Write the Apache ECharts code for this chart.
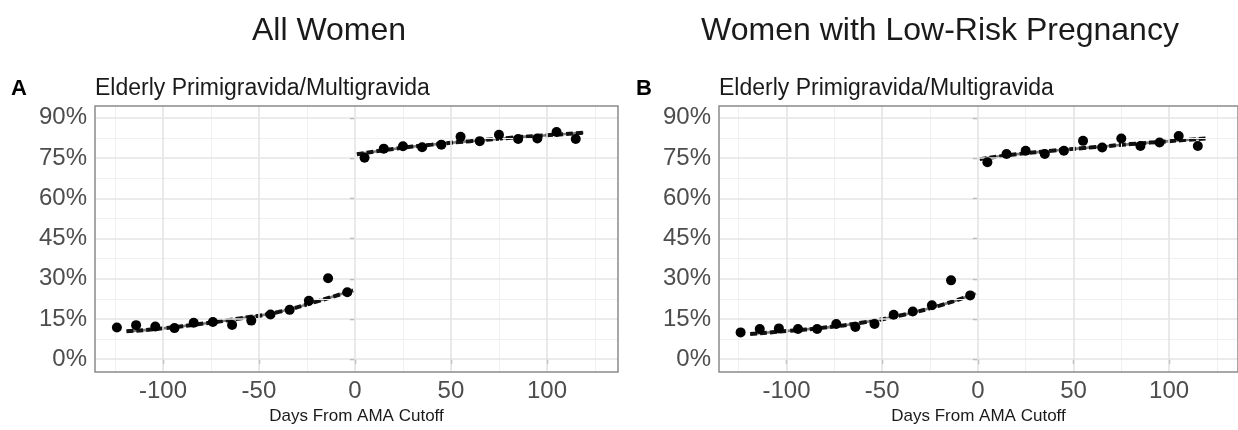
<!DOCTYPE html>
<html>
<head>
<meta charset="utf-8">
<script src="https://cdn.jsdelivr.net/npm/echarts@6/dist/echarts.min.js"></script>
<style>
  html, body { margin: 0; padding: 0; background: #ffffff; }
  #chart { width: 1238px; height: 430px; }
</style>
</head>
<body>
<div id="chart"></div>
<script>
// Days relative to the advanced-maternal-age cutoff (bin centres)
const daysBefore = [-124, -114, -104, -94, -84, -74, -64, -54, -44, -34, -24, -14, -4];
const daysAfter = [5, 15, 25, 35, 45, 55, 65, 75, 85, 95, 105, 115];

// Share coded as elderly primigravida/multigravida (%), all women
const allBefore = [11.8, 12.7, 12.2, 11.6, 13.6, 13.9, 12.8, 14.4, 16.7, 18.4, 21.8, 30.2, 25.0];
const allAfter = [75.1, 78.5, 79.4, 79.0, 80.0, 82.9, 81.3, 83.7, 82.1, 82.3, 84.7, 82.1];

// Same outcome, women with low-risk pregnancy
const lowBefore = [10.0, 11.3, 11.5, 11.3, 11.3, 13.1, 12.0, 13.1, 16.6, 17.8, 20.1, 29.4, 23.8];
const lowAfter = [73.4, 76.5, 77.7, 76.5, 77.7, 81.4, 78.9, 82.3, 79.5, 80.8, 83.2, 79.5];

// Fitted curves on each side of the cutoff
const fitDaysBefore = [-119, -100, -80, -60, -40, -20, -1];
const fitDaysAfter = [1, 20, 40, 60, 80, 100, 119];
const allFitBefore = [10.4, 11.5, 13.2, 15.2, 17.6, 21.5, 25.7];
const allFitAfter = [76.4, 78.4, 80.0, 81.3, 82.5, 83.5, 84.4];
const lowFitBefore = [9.4, 10.5, 11.8, 13.7, 16.4, 20.0, 24.5];
const lowFitAfter = [74.6, 76.4, 77.8, 79.0, 80.2, 81.3, 82.3];

// Axis breaks
const xTicks = [-100, -50, 0, 50, 100];
const xMinor = [-125, -75, -25, 25, 75, 125];
const yTicks = [0, 15, 30, 45, 60, 75, 90];
const yMinor = [7.5, 22.5, 37.5, 52.5, 67.5, 82.5];

const FONT = '"Liberation Sans", Arial, Helvetica, sans-serif';
const pair = (xs, ys) => xs.map((x, i) => [x, ys[i]]);

const grids = [
  { left: 95, top: 106, width: 523, height: 269, xMin: -135.4, xMax: 137 },
  { left: 719, top: 106, width: 519, height: 269, xMin: -135.3, xMax: 136 }
];

function xAxisFor(i) {
  const g = grids[i];
  return {
    type: 'value', gridIndex: i, min: g.xMin, max: g.xMax,
    name: 'Days From AMA Cutoff', nameLocation: 'middle', nameGap: 31,
    nameTextStyle: { fontFamily: FONT, fontSize: 17, color: '#1a1a1a' },
    axisLine: { show: false },
    axisTick: { show: true, customValues: xTicks, length: 5, lineStyle: { color: '#444', width: 1.2 } },
    axisLabel: { customValues: xTicks, fontFamily: FONT, fontSize: 24, color: '#4d4d4d', margin: 7 },
    splitLine: { show: false }
  };
}
function yAxisFor(i) {
  return {
    type: 'value', gridIndex: i, min: -4.8, max: 94.4,
    axisLine: { show: false },
    axisTick: { show: true, customValues: yTicks, length: 5, lineStyle: { color: '#444', width: 1.2 } },
    axisLabel: { customValues: yTicks, fontFamily: FONT, fontSize: 24, color: '#4d4d4d', margin: 8,
                 formatter: v => v + '%' },
    splitLine: { show: false }
  };
}

function gridLines(i) {
  const major = { color: '#e4e4e4', width: 1.6, type: 'solid' };
  const minor = { color: '#f0f0f0', width: 1.0, type: 'solid' };
  const lines = [];
  xMinor.forEach(v => lines.push({ xAxis: v, lineStyle: minor }));
  yMinor.forEach(v => lines.push({ yAxis: v, lineStyle: minor }));
  xTicks.forEach(v => lines.push({ xAxis: v, lineStyle: major }));
  yTicks.forEach(v => lines.push({ yAxis: v, lineStyle: major }));
  return {
    type: 'line', xAxisIndex: i, yAxisIndex: i, data: [], silent: true, z: 0,
    markLine: { silent: true, symbol: 'none', label: { show: false }, animation: false, data: lines }
  };
}

function fitSeries(i, xs, ys) {
  return [
    {
      type: 'line', xAxisIndex: i, yAxisIndex: i, data: pair(xs, ys), smooth: true,
      symbol: 'none', lineStyle: { color: '#7a7a7a', width: 2.6 }, z: 3, silent: true
    },
    {
      type: 'line', xAxisIndex: i, yAxisIndex: i, data: pair(xs, ys), smooth: true,
      symbol: 'none', lineStyle: { color: '#111111', width: 4, type: [7, 3] }, z: 4, silent: true
    }
  ];
}

function dotSeries(i, xs, ys) {
  return {
    type: 'scatter', xAxisIndex: i, yAxisIndex: i, data: pair(xs, ys),
    symbol: 'circle', symbolSize: 10, itemStyle: { color: '#000000', opacity: 1 }, z: 5, silent: true
  };
}

const option = {
  animation: false,
  backgroundColor: '#ffffff',
  grid: grids.map(g => ({
    left: g.left, top: g.top, width: g.width, height: g.height,
    show: true, borderColor: '#8a8a8a', borderWidth: 1.5, backgroundColor: 'transparent', z: 6
  })),
  xAxis: [xAxisFor(0), xAxisFor(1)],
  yAxis: [yAxisFor(0), yAxisFor(1)],
  series: [
    gridLines(0),
    gridLines(1),
    ...fitSeries(0, fitDaysBefore, allFitBefore),
    ...fitSeries(0, fitDaysAfter, allFitAfter),
    ...fitSeries(1, fitDaysBefore, lowFitBefore),
    ...fitSeries(1, fitDaysAfter, lowFitAfter),
    dotSeries(0, daysBefore, allBefore),
    dotSeries(0, daysAfter, allAfter),
    dotSeries(1, daysBefore, lowBefore),
    dotSeries(1, daysAfter, lowAfter)
  ],
  graphic: [
    { type: 'text', x: 329, y: 31, style: { text: 'All Women', font: '32px ' + FONT, fill: '#1a1a1a', textAlign: 'center', textVerticalAlign: 'middle' } },
    { type: 'text', x: 940, y: 31, style: { text: 'Women with Low-Risk Pregnancy', font: '32px ' + FONT, fill: '#1a1a1a', textAlign: 'center', textVerticalAlign: 'middle' } },
    { type: 'text', x: 11, y: 89, style: { text: 'A', font: 'bold 22px ' + FONT, fill: '#000', textAlign: 'left', textVerticalAlign: 'middle' } },
    { type: 'text', x: 95, y: 89, style: { text: 'Elderly Primigravida/Multigravida', font: '23px ' + FONT, fill: '#1a1a1a', textAlign: 'left', textVerticalAlign: 'middle' } },
    { type: 'text', x: 636, y: 89, style: { text: 'B', font: 'bold 22px ' + FONT, fill: '#000', textAlign: 'left', textVerticalAlign: 'middle' } },
    { type: 'text', x: 719, y: 89, style: { text: 'Elderly Primigravida/Multigravida', font: '23px ' + FONT, fill: '#1a1a1a', textAlign: 'left', textVerticalAlign: 'middle' } }
  ]
};

const chart = echarts.init(document.getElementById('chart'), null, { renderer: 'canvas' });
chart.setOption(option);
</script>
</body>
</html>
